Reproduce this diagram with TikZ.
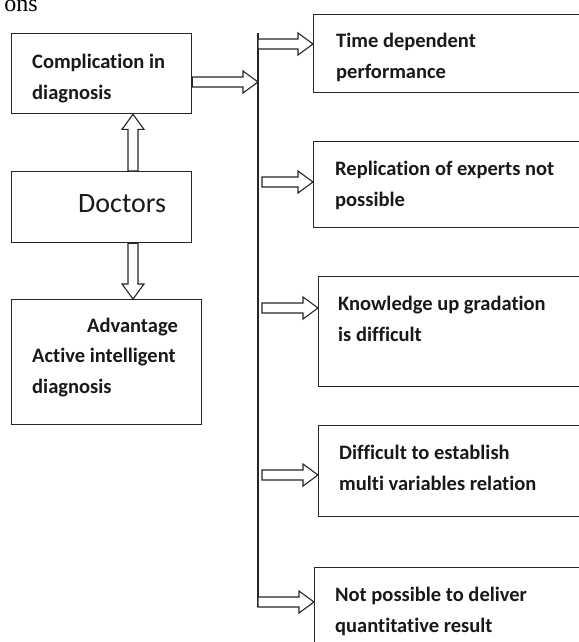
\documentclass[tikz,border=0pt]{standalone}
\usepackage{fontspec}
\setmainfont{Carlito}[Ligatures=NoCommon]
\newfontfamily\capfont{Liberation Serif}
\usetikzlibrary{calc}

\tikzset{
  box/.style={draw=black!85, line width=1.3pt, fill=white, inner sep=0pt, anchor=north west},
  txt/.style={font=\fontsize{20.5}{31}\selectfont\bfseries, align=left, inner sep=0pt, anchor=base west, text=black!90},
  fat/.style={draw=black!85, line width=1.1pt, fill=white, line join=miter}
}
% hollow block arrow from #1 to #2
\newcommand{\fatarrow}[2]{%
  \coordinate (fa) at ($(#2)!15pt!(#1)$);
  \draw[fat] ($(#1)!5pt!90:(#2)$) -- ($(fa)!5pt!90:(#2)$) -- ($(fa)!11pt!90:(#2)$) -- (#2)
    -- ($(fa)!11pt!-90:(#2)$) -- ($(fa)!5pt!-90:(#2)$) -- ($(#1)!5pt!-90:(#2)$) -- cycle;}

\begin{document}
\begin{tikzpicture}[x=1pt,y=-1pt]
\useasboundingbox (0,0) rectangle (578,642);
\node[anchor=base east, inner sep=0pt, font=\capfont\fontsize{24}{24}\selectfont] (cap) at (38,12) {ons};

% left column
\node[box, minimum width=180pt, minimum height=80pt] (comp) at (11,33) {};
\node[txt] (comp-t) at (32,99) {Complication in\\diagnosis};
\node[box, minimum width=180pt, minimum height=71pt] (doc) at (11,171) {};
\node[anchor=base west, inner sep=0pt, font=\fontsize{28}{28}\selectfont, text=black!90] (doc-t) at (78,212) {Doctors};
\node[box, minimum width=190pt, minimum height=125pt] (adv) at (11,299) {};
\node[txt, anchor=base east] (adv-h) at (178,332) {Advantage};
\node[txt] (adv-t) at (32,393) {Active intelligent\\diagnosis};

% right column
\node[box, minimum width=287pt, minimum height=78pt] (t1) at (313,14) {};
\node[txt] (t1-t) at (336,78) {Time dependent\\performance};
\node[box, minimum width=287pt, minimum height=86pt] (t2) at (313,141) {};
\node[txt] (t2-t) at (335,206) {Replication of experts not\\possible};
\node[box, minimum width=282pt, minimum height=110pt] (t3) at (318,276) {};
\node[txt] (t3-t) at (338,341) {Knowledge up gradation\\is difficult};
\node[box, minimum width=282pt, minimum height=91pt] (t4) at (318,425) {};
\node[txt] (t4-t) at (339,490) {Difficult to establish\\multi variables relation};
\node[box, minimum width=286pt, minimum height=113pt] (t5) at (314,567) {};
\node[txt] (t5-t) at (335,632) {Not possible to deliver\\quantitative result};

% bus line
\coordinate (bus-top) at (258,33);
\coordinate (bus-bot) at (258,607);
\draw[draw=black!85, line width=1.4pt] (bus-top) -- (bus-bot);

% arrows left
\coordinate (ax) at (133,0);
\coordinate (up0) at (doc.north -| ax);
\coordinate (up1) at (comp.south -| ax);
\fatarrow{up0}{up1}
\coordinate (dn0) at (doc.south -| ax);
\coordinate (dn1) at (adv.north -| ax);
\fatarrow{dn0}{dn1}
\coordinate (cj) at (258,82);
\coordinate (c0) at (comp.east |- cj);
\fatarrow{c0}{cj}

% arrows right
\coordinate (s1) at (258,44);
\coordinate (e1) at (t1.west |- s1);
\fatarrow{s1}{e1}
\coordinate (s2) at (262,182);
\coordinate (e2) at (t2.west |- s2);
\fatarrow{s2}{e2}
\coordinate (s3) at (262,308);
\coordinate (e3) at (t3.west |- s3);
\fatarrow{s3}{e3}
\coordinate (s4) at (262,475);
\coordinate (e4) at (t4.west |- s4);
\fatarrow{s4}{e4}
\coordinate (s5) at (258,602);
\coordinate (e5) at (t5.west |- s5);
\fatarrow{s5}{e5}
\end{tikzpicture}
\end{document}
